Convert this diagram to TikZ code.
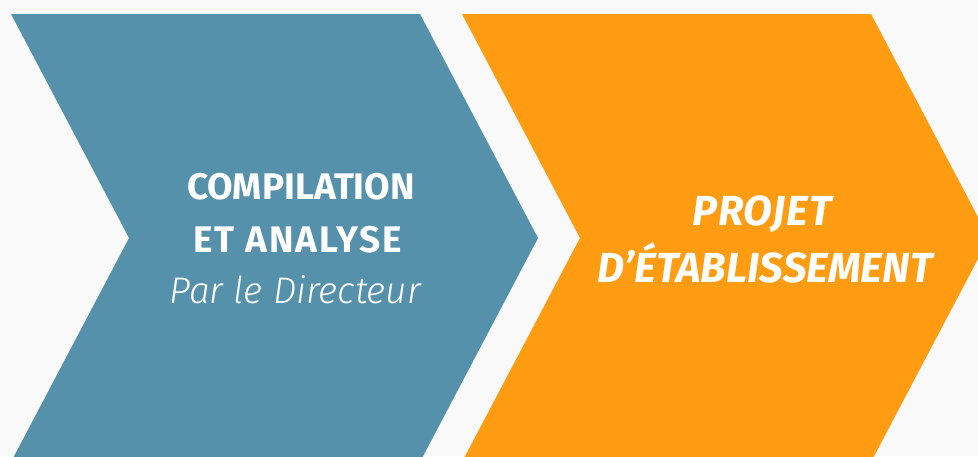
\documentclass[tikz,border=0pt]{standalone}
\usepackage{fontspec}
\setmainfont{Fira Sans}
\newfontfamily\firalight{Fira Sans Light}
\definecolor{bgc}{HTML}{F9F9F9}
\definecolor{bluec}{HTML}{5591AB}
\definecolor{orangec}{HTML}{FF9C12}
\begin{document}
\begin{tikzpicture}[x=1pt,y=-1pt,
  bigtxt/.style={text=white,font=\fontsize{37}{40}\selectfont\bfseries,inner sep=0pt,anchor=base},
  orgtxt/.style={text=white,font=\fontsize{42}{46}\selectfont\bfseries\itshape,inner sep=0pt,anchor=base},
  subtxt/.style={text=white,font=\fontsize{37}{40}\selectfont\firalight\itshape,inner sep=0pt,anchor=base}]
\useasboundingbox (0,0) rectangle (978,456);
\fill[bgc] (0,0) rectangle (978,456);
\fill[bluec] (11,14) -- (420,14) -- (538,238) -- (420,462) -- (11,462) -- (129,238) -- cycle;
\fill[orangec] (462,14) -- (871,14) -- (989,238) -- (871,462) -- (462,462) -- (580,238) -- cycle;
\node[bigtxt] (c1) at (301,199) {COMPILATION};
\node[bigtxt] (c2) at (298,252) {\addfontfeature{LetterSpace=5}ET ANALYSE};
\node[subtxt] (c3) at (295,303) {Par le Directeur};
\node[orgtxt] (p1) at (762,225) {\addfontfeature{LetterSpace=2}PROJET};
\node[orgtxt] (p2) at (765,282) {D’ÉTABLISSEMENT};
\end{tikzpicture}
\end{document}
